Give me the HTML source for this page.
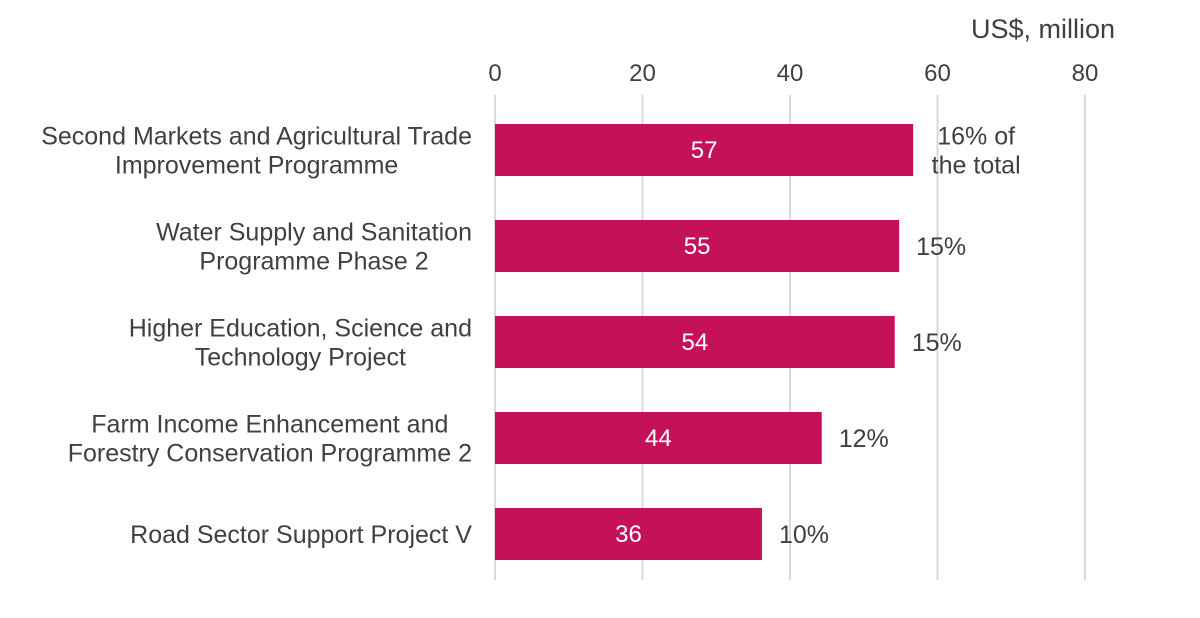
<!DOCTYPE html>
<html><head><meta charset="utf-8">
<style>
html,body{margin:0;padding:0;background:#fff;}
svg text{font-family:"Liberation Sans",Arial,sans-serif;}
</style></head>
<body>
<svg id="chart" width="1200" height="613" viewBox="0 0 1200 613" xmlns="http://www.w3.org/2000/svg">
<text x="1115" y="38" text-anchor="end" font-size="27" fill="#404040">US$, million</text>
<g id="grid"></g><g id="bars"></g>
</svg>
<script>
const categories = [
  ["Second Markets and Agricultural Trade","Improvement Programme"],
  ["Water Supply and Sanitation","Programme Phase 2"],
  ["Higher Education, Science and","Technology Project"],
  ["Farm Income Enhancement and","Forestry Conservation Programme 2"],
  ["Road Sector Support Project V"]
];
const values = [56.7, 54.8, 54.2, 44.3, 36.2];
const valueLabels = ["57","55","54","44","36"];
const shareLabels = [["16% of","the total"],["15%"],["15%"],["12%"],["10%"]];
const ticks = [0,20,40,60,80];

const NS="http://www.w3.org/2000/svg";
const x0=495, x1=1085, xMax=80;
const xs=v=>x0+(v/xMax)*(x1-x0);
const rowY=i=>150+i*96;
const grid=document.getElementById('grid'), barsG=document.getElementById('bars');
function mk(tag,attrs,parent){const e=document.createElementNS(NS,tag);for(const k in attrs)e.setAttribute(k,attrs[k]);parent.appendChild(e);return e;}

ticks.forEach(t=>{
  const l=mk('line',{x1:xs(t),x2:xs(t),y1:95,y2:580,stroke:'#d9d9d9','stroke-width':2},grid);
  
  
  const tx=mk('text',{x:xs(t),y:81,'text-anchor':'middle','font-size':24,fill:'#404040'},grid);
  tx.textContent=t;
  
  
});

values.forEach((v,i)=>{
  const cy=rowY(i);
  const r=mk('rect',{x:x0,y:cy-26,width:xs(v)-x0,height:52,fill:'#c4115a'},barsG);
  
  
  const vl=mk('text',{x:(x0+xs(v))/2,y:cy+8,'text-anchor':'middle','font-size':24,fill:'#fff'},barsG);
  vl.textContent=valueLabels[i];
  
  
  const lines=categories[i];
  const els=[];
  lines.forEach((s,j)=>{
    const t=mk('text',{x:472,y:cy+9+(j-(lines.length-1)/2)*29,'text-anchor':'middle','font-size':25,fill:'#404040'},barsG);
    t.textContent=s;
    
    
    els.push(t);
  });
  const maxW=Math.max(...els.map(e=>e.getComputedTextLength()));
  els.forEach(e=>e.setAttribute('x',472-maxW/2));
  const sh=shareLabels[i];
  sh.forEach((s,j)=>{
    const t=mk('text',{x:xs(v)+(sh.length>1?63:42),y:cy+9+(j-(sh.length-1)/2)*29,'text-anchor':'middle','font-size':25,fill:'#404040'},barsG);
    t.textContent=s;
    
    
  });
});
</script>
</body></html>
